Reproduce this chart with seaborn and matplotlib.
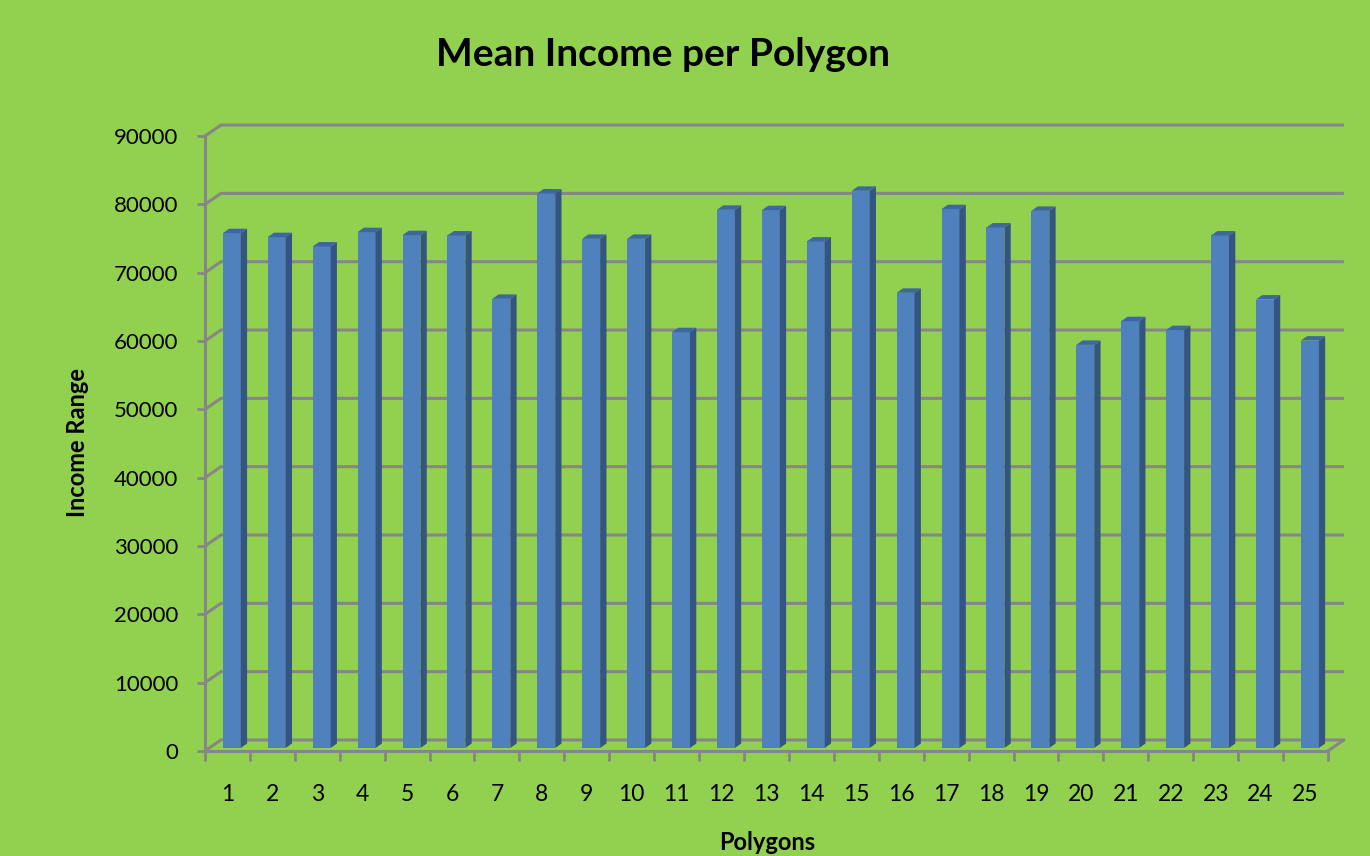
import numpy as np
import pandas as pd
import matplotlib
matplotlib.use('Agg')
import matplotlib.pyplot as plt
import matplotlib.transforms as mtransforms
from matplotlib.patches import Polygon
import seaborn as sns

# Values
polygons = [str(i) for i in range(1, 26)]
income = [75350, 74770, 73400, 75500, 75060, 75010, 65740, 81160, 74520, 74520,
          60860, 78770, 78720, 74130, 81550, 66620, 78870, 76180, 78620, 59000,
          62470, 61160, 75010, 65640, 59630]
y_ticks = [0, 10000, 20000, 30000, 40000, 50000, 60000, 70000, 80000, 90000]

BG = '#92D050'
GRID = '#868686'
FRONT = '#4F81BD'
SIDE = '#33557F'
TOP = '#3D679E'

sns.set_style('white')
plt.rcParams['font.family'] = ['Lato', 'DejaVu Sans']
plt.rcParams['text.color'] = 'black'
plt.rcParams['axes.labelcolor'] = 'black'
plt.rcParams['xtick.labelcolor'] = 'black'
plt.rcParams['ytick.labelcolor'] = 'black'

df = pd.DataFrame({'polygon': polygons, 'income': income})

fig = plt.figure(figsize=(13.7, 8.56), dpi=100, facecolor=BG)
ax = fig.add_axes([0.1496, 0.1227, 0.8197, 0.7343])
ax.set_facecolor('none')

sns.barplot(data=df, x='polygon', y='income', color=FRONT, width=0.4,
            saturation=1, ax=ax, zorder=3)

ax.set_xlim(-0.5, 24.5)
ax.set_ylim(0, 92000)

# pseudo-3D depth: back wall offset and bar depth (data units)
wall_dx, wall_dy = 0.356, 1610
bar_shift = mtransforms.ScaledTranslation(4.4 / 100, 3 / 100, fig.dpi_scale_trans)
bar_dx, bar_dy = 0.14, 650

# back wall gridlines + floor
for v in y_ticks:
    ax.plot([-0.5, -0.5 + wall_dx, 24.5 + wall_dx], [v, v + wall_dy, v + wall_dy],
            color=GRID, lw=2.2, zorder=1, clip_on=False, solid_capstyle='butt')
ax.plot([24.5, 24.5 + wall_dx], [0, wall_dy], color=GRID, lw=2.2, zorder=1, clip_on=False)

# side and top faces of each bar
for patch in ax.patches[:]:
    x0 = patch.get_x()
    x1 = x0 + patch.get_width()
    h = patch.get_height()
    patch.set_transform(ax.transData + bar_shift)
    patch.set_edgecolor('none')
    side = Polygon([(x1, 0), (x1 + bar_dx, bar_dy), (x1 + bar_dx, h + bar_dy), (x1, h)],
                   closed=True, facecolor=SIDE, edgecolor='none', zorder=3,
                   transform=ax.transData + bar_shift)
    top = Polygon([(x0, h), (x1, h), (x1 + bar_dx, h + bar_dy), (x0 + bar_dx, h + bar_dy)],
                  closed=True, facecolor=TOP, edgecolor='none', zorder=3,
                  transform=ax.transData + bar_shift)
    ax.add_patch(side)
    ax.add_patch(top)

# axes styling
for s in ['top', 'right']:
    ax.spines[s].set_visible(False)
for s in ['left', 'bottom']:
    ax.spines[s].set_color(GRID)
    ax.spines[s].set_linewidth(2.2)
ax.spines['left'].set_bounds(0, 90000)

ax.set_yticks(y_ticks)
ax.set_yticklabels([str(v) for v in y_ticks])
ax.tick_params(axis='y', length=6, width=2, color=GRID, pad=13, labelsize=16, left=True)
ax.set_xticks(range(25))
ax.set_xticklabels(polygons)
ax.tick_params(axis='x', which='major', length=0, pad=24, labelsize=16.5)
ax.set_xticks(np.arange(-0.5, 25, 1), minor=True)
ax.tick_params(axis='x', which='minor', length=7, width=2, color=GRID, bottom=True)

ax.set_xlabel('Polygons', fontsize=17, fontweight='bold')
ax.xaxis.set_label_coords(0.5004, -0.128)
ax.set_ylabel('Income Range', fontsize=17, fontweight='bold')
ax.yaxis.set_label_coords(-0.103, 0.49)

fig.suptitle('Mean Income per Polygon', x=0.484, y=0.936, va='center',
             fontsize=28, fontweight='bold')

fig.savefig('out.png', dpi=100, facecolor=BG)
